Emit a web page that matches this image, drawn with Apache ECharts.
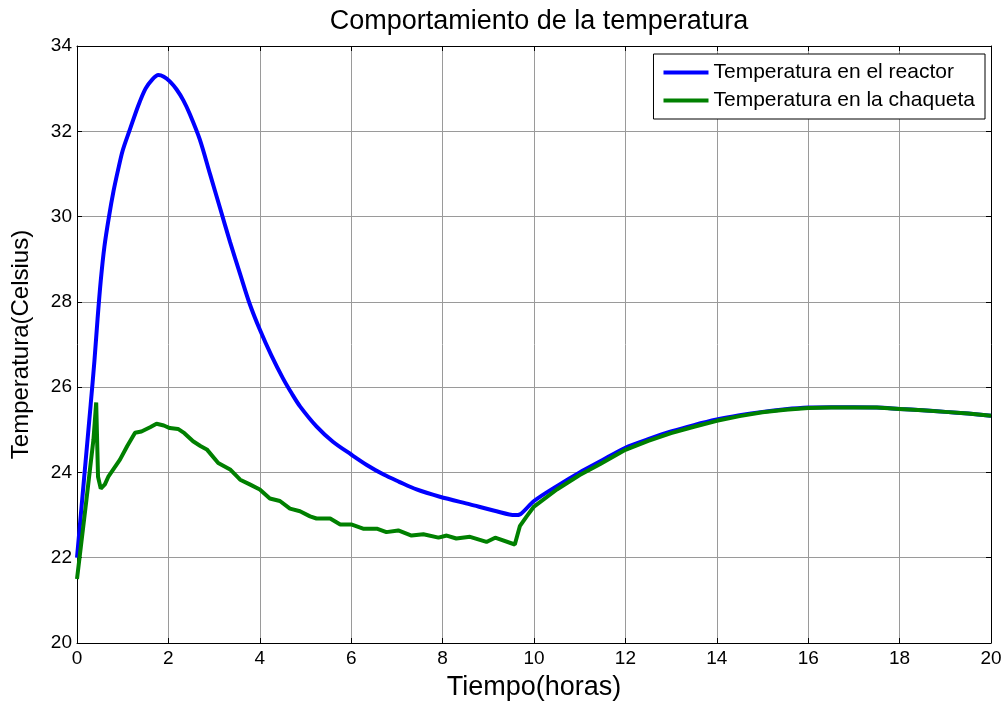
<!DOCTYPE html>
<html>
<head>
<meta charset="utf-8">
<script src="https://cdn.jsdelivr.net/npm/echarts@6/dist/echarts.min.js"></script>
<style>html,body{margin:0;padding:0;background:#fff}#c{width:1008px;height:706px}</style>
</head>
<body>
<div id="c"></div>
<script>
const titleText = 'Comportamiento de la temperatura';
const xName = 'Tiempo(horas)';
const yName = 'Temperatura(Celsius)';
const seriesNames = ['Temperatura en el reactor', 'Temperatura en la chaqueta'];

const timeReactor = [0, 0.1, 0.2, 0.3, 0.38, 0.45, 0.52, 0.6, 0.7, 0.8, 0.9, 1.0, 1.16, 1.34, 1.5, 1.65, 1.78, 1.9, 2.03, 2.18, 2.33, 2.47, 2.69, 2.91, 3.13, 3.35, 3.57, 3.78, 4.0, 4.25, 4.51, 4.7, 4.88, 5.24, 5.6, 6.0, 6.35, 6.71, 7.05, 7.43, 7.94, 8.6, 9.18, 9.58, 9.7, 10.0, 10.5, 11.0, 11.45, 12.0, 12.5, 13.0, 13.5, 14.0, 14.5, 15.0, 15.5, 16.0, 16.5, 17.0, 17.5, 18.0, 18.5, 19.0, 19.5, 20.0];
const tempReactor = [22.0, 23.2, 24.4, 25.6, 26.6, 27.6, 28.5, 29.3, 30.0, 30.6, 31.1, 31.55, 32.05, 32.6, 33.0, 33.22, 33.32, 33.28, 33.17, 32.98, 32.72, 32.4, 31.8, 31.0, 30.2, 29.4, 28.65, 27.95, 27.35, 26.75, 26.2, 25.85, 25.55, 25.08, 24.72, 24.42, 24.17, 23.95, 23.78, 23.6, 23.43, 23.25, 23.09, 23.0, 23.02, 23.33, 23.68, 24.0, 24.26, 24.58, 24.78, 24.96, 25.11, 25.24, 25.34, 25.42, 25.48, 25.52, 25.53, 25.53, 25.52, 25.49, 25.46, 25.42, 25.38, 25.33];

const timeJacket = [0, 0.2, 0.36, 0.42, 0.46, 0.52, 0.61, 0.69, 0.94, 1.1, 1.27, 1.41, 1.6, 1.74, 1.9, 2.03, 2.21, 2.35, 2.54, 2.7, 2.84, 3.09, 3.35, 3.57, 3.78, 4.0, 4.22, 4.44, 4.66, 4.88, 5.1, 5.24, 5.54, 5.76, 6.0, 6.26, 6.56, 6.77, 7.03, 7.32, 7.58, 7.91, 8.09, 8.3, 8.6, 8.96, 9.15, 9.58, 9.69, 9.84, 10.0, 10.5, 11.0, 11.45, 12.0, 12.5, 13.0, 13.5, 14.0, 14.5, 15.0, 15.5, 16.0, 16.5, 17.0, 17.5, 18.0, 18.5, 19.0, 19.5, 20.0];
const tempJacket = [21.5, 23.3, 24.77, 25.64, 23.9, 23.62, 23.72, 23.91, 24.3, 24.62, 24.93, 24.96, 25.06, 25.14, 25.1, 25.04, 25.02, 24.92, 24.73, 24.62, 24.54, 24.22, 24.07, 23.83, 23.72, 23.6, 23.39, 23.33, 23.15, 23.09, 22.97, 22.92, 22.92, 22.78, 22.78, 22.68, 22.68, 22.6, 22.64, 22.52, 22.55, 22.47, 22.52, 22.45, 22.49, 22.37, 22.47, 22.31, 22.74, 22.97, 23.2, 23.6, 23.94, 24.2, 24.53, 24.74, 24.92, 25.07, 25.21, 25.32, 25.41, 25.47, 25.51, 25.52, 25.52, 25.52, 25.49, 25.46, 25.42, 25.38, 25.33];

const xTicks = {min: 0, max: 20, interval: 2};
const yTicks = {min: 20, max: 34, interval: 2};

const pairs = (t, v) => t.map((x, i) => [x, v[i]]);
const font = 'Liberation Sans, Arial, sans-serif';

const chart = echarts.init(document.getElementById('c'), null, {renderer: 'canvas'});
const gridLine = {show: true, lineStyle: {color: '#9a9a9a', width: 1}};
const axisLine = {show: true, onZero: false, lineStyle: {color: '#000', width: 1}};
const tickIn = {show: true, inside: true, length: 5, lineStyle: {color: '#000'}};
chart.setOption({
  animation: false,
  backgroundColor: '#fff',
  title: {
    text: titleText, left: 534, top: 3, textAlign: 'center',
    textStyle: {fontFamily: font, fontSize: 27, fontWeight: 'normal', color: '#000'}
  },
  grid: {left: 77, right: 17, top: 46, bottom: 62, containLabel: false},
  legend: {
    orient: 'vertical', right: 23, top: 54,
    backgroundColor: '#fff', borderColor: '#000', borderWidth: 1,
    padding: [8, 10, 8, 10], itemGap: 7, itemWidth: 45, itemHeight: 4,
    icon: 'rect',
    textStyle: {fontFamily: font, fontSize: 21, color: '#000', padding: [0, 0, 0, 0]},
    data: seriesNames
  },
  xAxis: [{
    type: 'value', min: xTicks.min, max: xTicks.max, interval: xTicks.interval,
    name: xName, nameLocation: 'middle', nameGap: 31,
    nameTextStyle: {fontFamily: font, fontSize: 27, color: '#000'},
    axisLine: axisLine, axisTick: tickIn, splitLine: gridLine,
    axisLabel: {fontFamily: font, fontSize: 19, color: '#000', margin: 6}
  }, {
    type: 'value', position: 'top', min: xTicks.min, max: xTicks.max, interval: xTicks.interval,
    axisLine: axisLine, axisTick: tickIn, splitLine: {show: false}, axisLabel: {show: false}
  }],
  yAxis: [{
    type: 'value', min: yTicks.min, max: yTicks.max, interval: yTicks.interval,
    name: yName, nameLocation: 'middle', nameGap: 44,
    nameTextStyle: {fontFamily: font, fontSize: 24, color: '#000'},
    axisLine: axisLine, axisTick: tickIn, splitLine: gridLine,
    axisLabel: {fontFamily: font, fontSize: 19, color: '#000', margin: 5}
  }, {
    type: 'value', position: 'right', min: yTicks.min, max: yTicks.max, interval: yTicks.interval,
    axisLine: axisLine, axisTick: tickIn, splitLine: {show: false}, axisLabel: {show: false}
  }],
  series: [{
    name: seriesNames[0], type: 'line', showSymbol: false, smooth: 0.3,
    data: pairs(timeReactor, tempReactor),
    lineStyle: {color: '#0000ff', width: 4}, itemStyle: {color: '#0000ff'}
  }, {
    name: seriesNames[1], type: 'line', showSymbol: false, smooth: false,
    data: pairs(timeJacket, tempJacket),
    lineStyle: {color: '#008000', width: 4}, itemStyle: {color: '#008000'}
  }]
});
</script>
</body>
</html>
